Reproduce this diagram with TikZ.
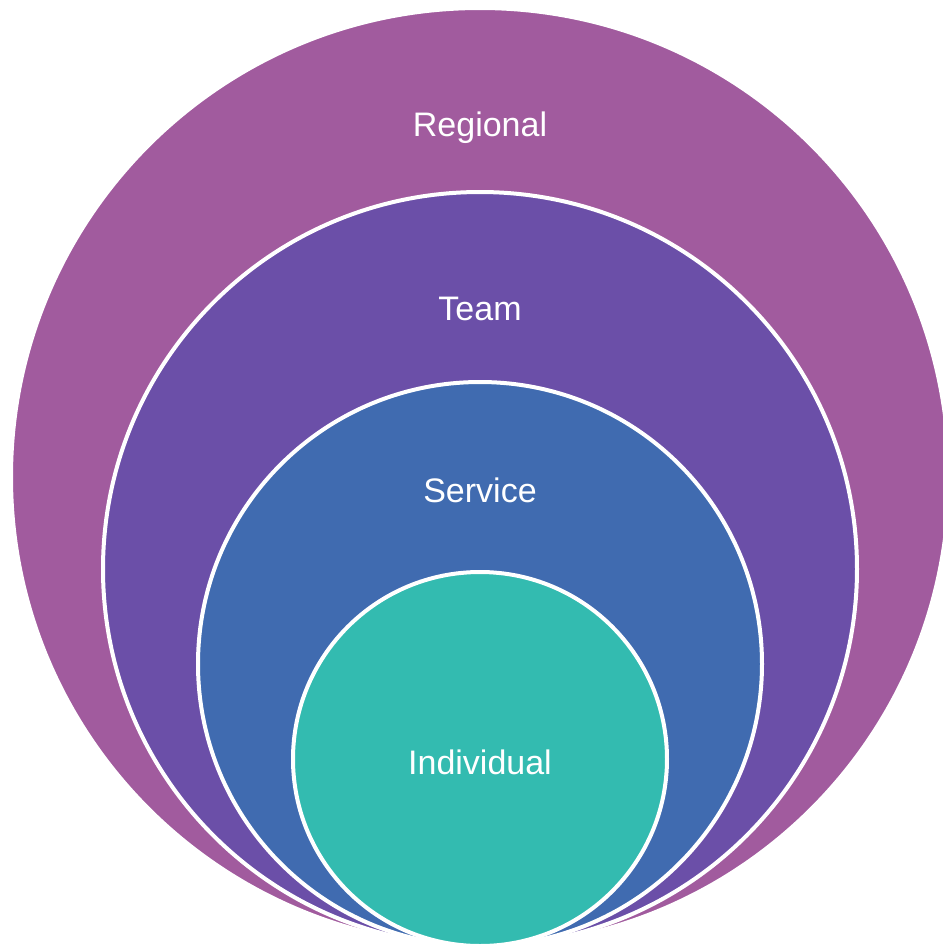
\documentclass[tikz,border=0pt]{standalone}
\usepackage{fontspec}
\setmainfont{Liberation Sans}
\definecolor{regional}{RGB}{161,91,158}
\definecolor{team}{RGB}{107,79,168}
\definecolor{service}{RGB}{64,107,176}
\definecolor{individual}{RGB}{51,187,176}
\tikzset{
  ring/.style={draw=white,line width=2pt},
  ringlabel/.style={text=white,font=\fontsize{17}{20}\selectfont}
}
\begin{document}
\begin{tikzpicture}[x=0.5pt,y=-0.5pt]
    \useasboundingbox (0,0) rectangle (943,949);
    \clip (0,0) rectangle (943,949);
    \coordinate (C0) at (480,477);
    \coordinate (C1) at (480,569);
    \coordinate (C2) at (480,664);
    \coordinate (C3) at (480,759);

    \draw[ring,fill=regional] (C0) circle (469);
    \draw[ring,fill=team] (C1) circle (377);
    \draw[ring,fill=service] (C2) circle (282);
    \draw[ring,fill=individual] (C3) circle (187);

    \node[ringlabel] (regional) at (480,128) {Regional};
    \node[ringlabel] (team) at (480,309) {Team};
    \node[ringlabel] (service) at (480,490) {Service};
    \node[ringlabel] (individual) at (480,762) {Individual};
  \end{tikzpicture}
\end{document}
